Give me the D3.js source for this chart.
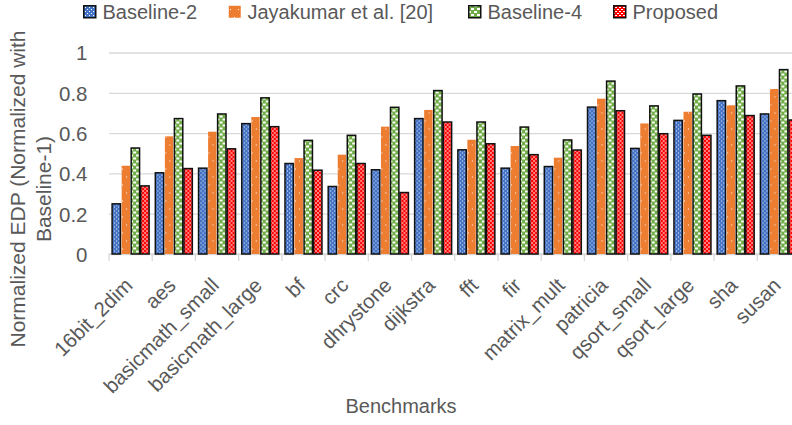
<!DOCTYPE html>
<html>
<head>
<meta charset="utf-8">
<script src="https://cdn.jsdelivr.net/npm/d3@7"></script>
<style>
  body { margin: 0; background: #fff; }
  svg { display: block; font-family: "Liberation Sans", Arial, sans-serif; }
  .axis text, .legend text, .title { fill: #595959; }
  .grid line, .x-axis line, .x-axis path { stroke: #d9d9d9; }
</style>
</head>
<body>
<div id="chart"></div>
<script>
// Data
var benchmarks = ["16bit_2dim", "aes", "basicmath_small", "basicmath_large", "bf", "crc",
  "dhrystone", "dijkstra", "fft", "fir", "matrix_mult", "patricia", "qsort_small",
  "qsort_large", "sha", "susan"];
var seriesNames = ["Baseline-2", "Jayakumar et al. [20]", "Baseline-4", "Proposed"];
var baseline2 = [0.249, 0.403, 0.426, 0.647, 0.449, 0.335, 0.418, 0.672, 0.517, 0.426, 0.434, 0.729, 0.524, 0.663, 0.761, 0.695];
var jayakumar = [0.438, 0.584, 0.607, 0.680, 0.476, 0.493, 0.632, 0.715, 0.567, 0.536, 0.478, 0.771, 0.648, 0.706, 0.738, 0.819];
var baseline4 = [0.526, 0.672, 0.695, 0.775, 0.564, 0.589, 0.728, 0.811, 0.655, 0.630, 0.566, 0.858, 0.735, 0.794, 0.834, 0.915];
var proposed  = [0.338, 0.424, 0.522, 0.632, 0.416, 0.449, 0.305, 0.655, 0.547, 0.493, 0.516, 0.711, 0.597, 0.589, 0.687, 0.665];
var yTicks = [0, 0.2, 0.4, 0.6, 0.8, 1];

var seriesValues = [baseline2, jayakumar, baseline4, proposed];
var seriesKeys = ["b2", "jk", "b4", "pr"];
var rows = benchmarks.map(function(name, i) {
  return {
    name: name,
    values: seriesKeys.map(function(k, j) { return { key: k, value: seriesValues[j][i] }; })
  };
});

var width = 792;
var height = 425;
var margins = { top: 52.5, left: 109, bottom: 171 };
// plot runs past the right edge of the picture, like the original
var plotRight = 800.5;
var chartHeight = height - margins.top - margins.bottom;

var svg = d3.select("#chart").append("svg")
  .attr("width", width)
  .attr("height", height);

// Fill patterns
var defs = svg.append("defs");
var pat = function(id, w, h, bg, marks) {
  var p = defs.append("pattern")
    .attr("id", id)
    .attr("patternUnits", "userSpaceOnUse")
    .attr("width", w)
    .attr("height", h);
  p.append("rect").attr("width", w).attr("height", h).attr("fill", bg);
  marks.forEach(function(m) {
    p.append("rect")
      .attr("x", m[0]).attr("y", m[1])
      .attr("width", m[2]).attr("height", m[3])
      .attr("fill", "#fff");
  });
};
pat("pat-b2", 4, 4, "#4472c4", [[0, 0, 1, 1], [2, 2, 1, 1]]);
pat("pat-jk", 8, 16, "#ed7d31", [[2, 4, 1, 1], [6, 12, 1, 1]]);
pat("pat-b4", 6, 6, "#70ad47", [[0, 0, 3, 2], [3, 3, 3, 2]]);
pat("pat-pr", 4, 4, "#ff0000", [[0, 0, 2, 1], [2, 2, 2, 1]]);

var strokes = { b2: "#111", jk: "none", b4: "#111", pr: "#111" };

var chart = svg.append("g")
  .attr("transform", `translate(0,${margins.top})`);

// Scales
var x0 = d3.scaleBand()
  .domain(benchmarks)
  .range([margins.left, plotRight])
  .paddingInner(0.144)
  .paddingOuter(0.072);

var x1 = d3.scaleBand()
  .domain(seriesKeys)
  .range([0, x0.bandwidth()])
  .paddingInner(0.12);

var yScale = d3.scaleLinear()
  .domain([0, 1])
  .range([chartHeight, 0]);

// Grid
chart.append("g")
  .attr("class", "grid")
  .attr("transform", `translate(${margins.left},0)`)
  .call(d3.axisLeft(yScale).tickValues(yTicks).tickSize(-(plotRight - margins.left)).tickFormat(""))
  .call(g => g.select(".domain").remove())
  .call(g => g.selectAll("line").attr("stroke-width", 1.3));

// Y axis labels
chart.append("g")
  .attr("class", "axis y-axis")
  .attr("transform", `translate(${margins.left - 21.5},0)`)
  .call(d3.axisLeft(yScale).tickValues(yTicks).tickSize(0).tickPadding(0).tickFormat(d => d))
  .call(g => g.select(".domain").remove())
  .call(g => g.selectAll("text")
    .style("font-size", "20.5px")
    .style("font-family", null)
    .attr("dy", "0.36em"));

// X axis line and boundary ticks
var step = x0.step();
var bounds = benchmarks.map(d => x0(d) - step * x0.paddingOuter()).concat([plotRight]);
var xAxis = chart.append("g")
  .attr("class", "x-axis")
  .attr("transform", `translate(0,${chartHeight})`);
xAxis.append("path")
  .attr("d", `M${margins.left},0H${plotRight}`)
  .attr("stroke-width", 1.3);
xAxis.selectAll("line.tick")
  .data(bounds)
  .enter()
  .append("line")
  .attr("class", "tick")
  .attr("x1", d => d)
  .attr("x2", d => d)
  .attr("y1", 0)
  .attr("y2", 7)
  .attr("stroke-width", 1.3);

// X labels
chart.append("g")
  .attr("class", "axis x-labels")
  .selectAll("text")
  .data(benchmarks)
  .enter()
  .append("text")
  .attr("transform", d => `translate(${x0(d) + x0.bandwidth() / 2 - 0.5},${chartHeight + 29}) rotate(-45)`)
  .attr("text-anchor", "end")
  .attr("dy", "0.25em")
  .style("font-size", "20.5px")
  .text(d => d);

// Bars
chart.append("g")
  .attr("class", "bars")
  .selectAll("g")
  .data(rows)
  .enter()
  .append("g")
  .attr("transform", d => `translate(${x0(d.name)},0)`)
  .selectAll("rect")
  .data(d => d.values)
  .enter()
  .append("rect")
  .attr("x", d => x1(d.key))
  .attr("y", d => yScale(d.value))
  .attr("width", x1.bandwidth())
  .attr("height", d => yScale(0) - yScale(d.value))
  .attr("fill", d => `url(#pat-${d.key})`)
  .attr("stroke", d => strokes[d.key])
  .attr("stroke-width", 1.5);

// Legend
var legendX = [83, 228, 468, 613];
var legend = svg.append("g").attr("class", "legend");
var items = legend.selectAll("g")
  .data(seriesKeys)
  .enter()
  .append("g")
  .attr("transform", (d, i) => `translate(${legendX[i]},5)`);
items.append("rect")
  .attr("x", 0.75)
  .attr("y", 0.75)
  .attr("width", 12)
  .attr("height", 12)
  .attr("fill", d => `url(#pat-${d})`)
  .attr("stroke", d => strokes[d])
  .attr("stroke-width", 1.5);
items.append("text")
  .attr("x", 19.5)
  .attr("y", 13.5)
  .style("font-size", "20px")
  .text((d, i) => seriesNames[i]);

// Axis titles
svg.append("text")
  .attr("class", "title")
  .attr("x", 401)
  .attr("y", 413)
  .attr("text-anchor", "middle")
  .style("font-size", "20px")
  .text("Benchmarks");

var yTitle = svg.append("text")
  .attr("class", "title")
  .attr("transform", "translate(25,189) rotate(-90)")
  .attr("text-anchor", "middle")
  .style("font-size", "21px");
yTitle.append("tspan").attr("x", 0).attr("dy", 0).text("Normalized EDP (Normalized with");
yTitle.append("tspan").attr("x", 0).attr("dy", 26).text("Baseline-1)");
</script>
</body>
</html>
